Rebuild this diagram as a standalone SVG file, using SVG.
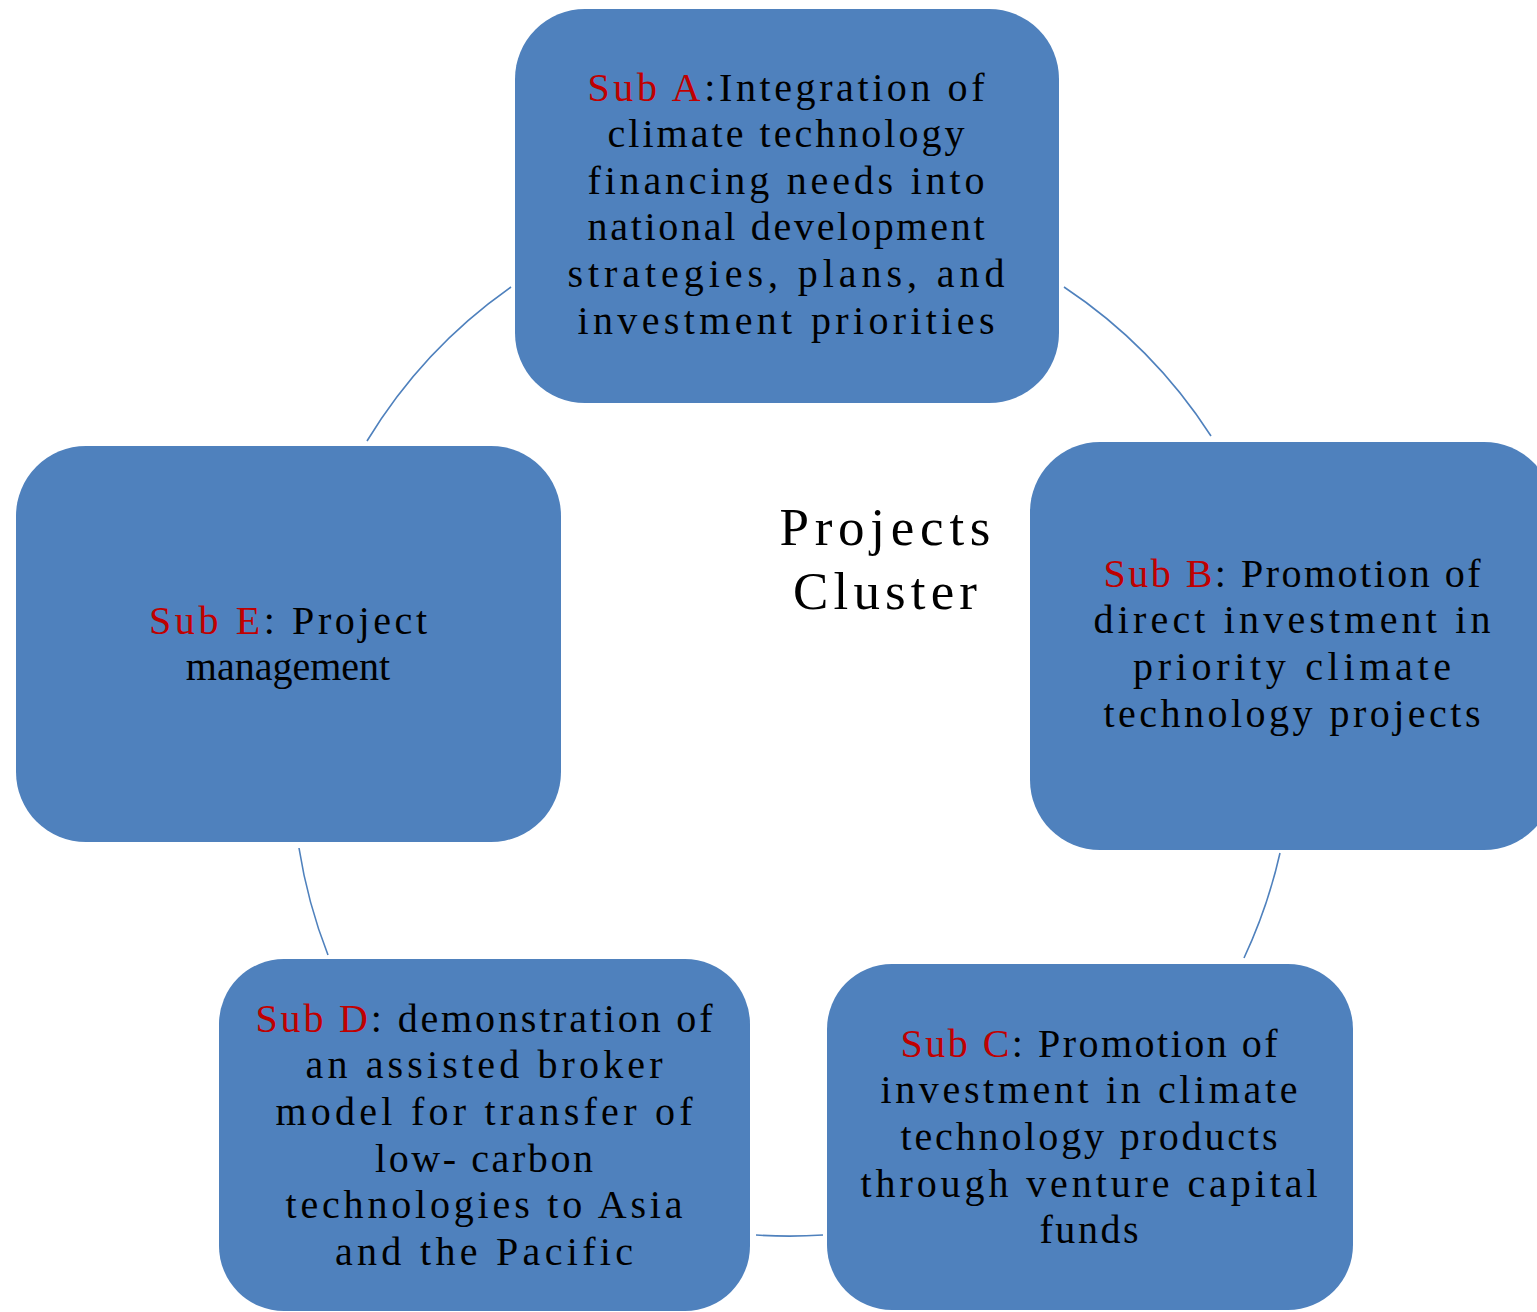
<svg xmlns="http://www.w3.org/2000/svg" width="1537" height="1312" viewBox="0 0 1537 1312">
<style>
.box{fill:#4F81BD;}
.t{font-family:"Liberation Serif","DejaVu Serif",serif;font-size:40px;fill:#000;text-anchor:middle;}
.r{fill:#C00000;}
.c{font-family:"Liberation Serif","DejaVu Serif",serif;font-size:53px;fill:#000;text-anchor:middle;}
.conn{fill:none;stroke:#4F81BD;stroke-width:1.6;}
</style>
<rect width="1537" height="1312" fill="#fff"/>
<g id="connectors">
<path class="conn" d="M1064 287 A512 512 0 0 1 1211 436"/>
<path class="conn" d="M1280 853 A512 512 0 0 1 1244 958"/>
<path class="conn" d="M823 1235 A512 512 0 0 1 756 1235"/>
<path class="conn" d="M328 955 A512 512 0 0 1 299 848"/>
<path class="conn" d="M367 441 A512 512 0 0 1 511 287"/>
</g>
<g id="center">
<text class="c" x="885" y="545" textLength="211" lengthAdjust="spacing">Projects</text>
<text class="c" x="885" y="609" textLength="184" lengthAdjust="spacing">Cluster</text>
</g>
<g id="subA">
<rect class="box" x="515" y="9" width="544" height="394" rx="70" ry="70"/>
<text class="t" x="786" y="101" textLength="397" lengthAdjust="spacing"><tspan class="r">Sub A</tspan>:Integration of</text>
<text class="t" x="786" y="147" textLength="357" lengthAdjust="spacing">climate technology</text>
<text class="t" x="786" y="194" textLength="397" lengthAdjust="spacing">financing needs into</text>
<text class="t" x="786" y="240" textLength="397" lengthAdjust="spacing">national development</text>
<text class="t" x="786" y="287" textLength="437" lengthAdjust="spacing">strategies, plans, and</text>
<text class="t" x="786" y="334" textLength="417" lengthAdjust="spacing">investment priorities</text>
</g>
<g id="subB">
<rect class="box" x="1030" y="442" width="524" height="408" rx="70" ry="70"/>
<text class="t" x="1292" y="587" textLength="377" lengthAdjust="spacing"><tspan class="r">Sub B</tspan>: Promotion of</text>
<text class="t" x="1292" y="633" textLength="397" lengthAdjust="spacing">direct investment in</text>
<text class="t" x="1292" y="680" textLength="318" lengthAdjust="spacing">priority climate</text>
<text class="t" x="1292" y="727" textLength="377" lengthAdjust="spacing">technology projects</text>
</g>
<g id="subC">
<rect class="box" x="827" y="964" width="526" height="346" rx="65" ry="65"/>
<text class="t" x="1089" y="1057" textLength="377" lengthAdjust="spacing"><tspan class="r">Sub C</tspan>: Promotion of</text>
<text class="t" x="1089" y="1103" textLength="417" lengthAdjust="spacing">investment in climate</text>
<text class="t" x="1089" y="1150" textLength="377" lengthAdjust="spacing">technology products</text>
<text class="t" x="1089" y="1197" textLength="457" lengthAdjust="spacing">through venture capital</text>
<text class="t" x="1089" y="1243" textLength="99" lengthAdjust="spacing">funds</text>
</g>
<g id="subD">
<rect class="box" x="219" y="959" width="531" height="352" rx="65" ry="65"/>
<text class="t" x="484" y="1032" textLength="457" lengthAdjust="spacing"><tspan class="r">Sub D</tspan>: demonstration of</text>
<text class="t" x="484" y="1078" textLength="357" lengthAdjust="spacing">an assisted broker</text>
<text class="t" x="484" y="1125" textLength="417" lengthAdjust="spacing">model for transfer of</text>
<text class="t" x="484" y="1172" textLength="218" lengthAdjust="spacing">low- carbon</text>
<text class="t" x="484" y="1218" textLength="397" lengthAdjust="spacing">technologies to Asia</text>
<text class="t" x="484" y="1265" textLength="298" lengthAdjust="spacing">and the Pacific</text>
</g>
<g id="subE">
<rect class="box" x="16" y="446" width="545" height="396" rx="70" ry="70"/>
<text class="t" x="288" y="634" textLength="278" lengthAdjust="spacing"><tspan class="r">Sub E</tspan>: Project</text>
<text class="t" x="288" y="680">management</text>
</g>
</svg>
